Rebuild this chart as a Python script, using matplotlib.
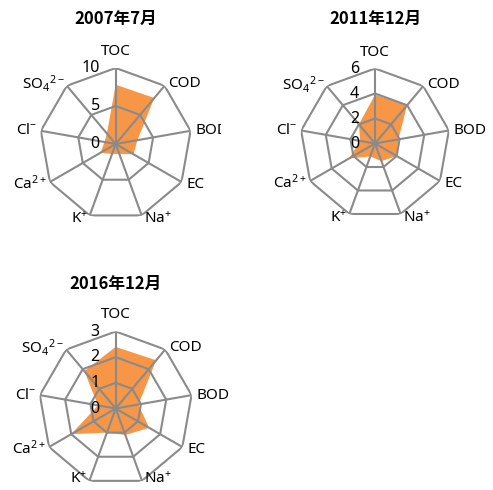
import numpy as np
import matplotlib
matplotlib.use("Agg")
import matplotlib.pyplot as plt
from matplotlib.transforms import Bbox, TransformedBbox

plt.rcParams["mathtext.fontset"] = "custom"
plt.rcParams["mathtext.rm"] = "Noto Sans"
plt.rcParams["mathtext.it"] = "Noto Sans"
plt.rcParams["mathtext.default"] = "regular"

# Water-quality parameters, clockwise from the top
categories = ["TOC", "COD", "BOD", "EC", r"Na$^{+}$", r"K$^{+}$",
              r"Ca$^{2+}$", r"Cl$^{-}$", r"SO$_{4}$$^{2-}$"]

titles = ["2007年7月", "2011年12月", "2016年12月"]
values_2007 = [7.8, 7.9, 2.9, 2.7, 1.4, 1.4, 2.3, 1.5, 1.8]
values_2011 = [3.9, 4.0, 1.9, 2.0, 1.5, 1.1, 2.4, 1.2, 2.0]
values_2016 = [2.4, 2.45, 0.9, 1.5, 1.1, 1.0, 2.0, 0.7, 1.9]
ticks_2007 = [0, 5, 10]
ticks_2011 = [0, 2, 4, 6]
ticks_2016 = [0, 1, 2, 3]

W, H = 493, 490
FILL = "#F79646"
GRID = "#8A8A8A"
LATIN = ["Noto Sans", "DejaVu Sans"]
CJK = ["Noto Sans CJK JP", "DejaVu Sans"]

# label placement around each outer vertex: (dx px, dy px, ha, va)
LABEL_POS = [(0, 9, "center", "bottom"), (4, 2, "left", "center"),
             (5, 0, "left", "center"), (5, -2, "left", "center"),
             (2, -4, "left", "center"), (-2, -4, "right", "center"),
             (-3, -2, "right", "center"), (-4, 0, "right", "center"),
             (-2, 2, "right", "center")]

fig = plt.figure(figsize=(W / 100, H / 100), dpi=100)
fig.patch.set_facecolor("white")


def radar(title, values, ticks, cx, cy, R, title_y, clip_right=None, bottom_dy=None):
    ax = fig.add_axes([(cx - R) / W, 1 - (cy + R) / H, 2 * R / W, 2 * R / H],
                      projection="polar")
    ax.set_theta_offset(np.pi / 2)
    ax.set_theta_direction(-1)
    rmax = ticks[-1]
    ax.set_ylim(0, rmax)
    ax.set_axis_off()

    n = len(categories)
    theta = np.arange(n) * 2 * np.pi / n
    th_c = np.append(theta, theta[0])
    v_c = np.append(values, values[0])

    ax.fill(th_c, v_c, color=FILL, lw=0, zorder=1)
    for t in ticks[1:]:
        ax.plot(th_c, [t] * (n + 1), color=GRID, lw=1.5, zorder=2,
                solid_joinstyle="miter")
    for th in theta:
        ax.plot([th, th], [0, rmax], color=GRID, lw=1.5, zorder=2)

    clip = None
    if clip_right is not None:
        clip = TransformedBbox(Bbox([[0, 0], [clip_right / W, 1]]), fig.transFigure)
    for i, (th, lab, (dx, dy, ha, va)) in enumerate(zip(theta, categories, LABEL_POS)):
        if bottom_dy is not None and i in (4, 5):
            dy = bottom_dy
        txt = ax.annotate(lab, xy=(th, rmax), xytext=(dx, dy),
                          textcoords="offset pixels", ha=ha, va=va,
                          fontsize=11, family=LATIN, annotation_clip=False,
                          zorder=3)
        if clip is not None:
            txt.set_clip_box(clip)
            txt.set_clip_on(True)

    for t in ticks:
        ax.annotate(str(t), xy=(0, t), xytext=(-16, 0), textcoords="offset pixels",
                    ha="right", va="center", fontsize=11.5, family=LATIN,
                    annotation_clip=False, zorder=3)

    fig.text(cx / W, 1 - title_y / H, title, ha="center", va="center",
             fontsize=12, fontweight="bold", family=CJK)


radar(titles[0], values_2007, ticks_2007, 115.7, 144, 76, 19, clip_right=221)
radar(titles[1], values_2011, ticks_2011, 375, 143.5, 75, 19)
radar(titles[2], values_2016, ticks_2016, 115.7, 408.5, 77, 284, bottom_dy=2)

fig.savefig("out.png", dpi=100, facecolor="white")
